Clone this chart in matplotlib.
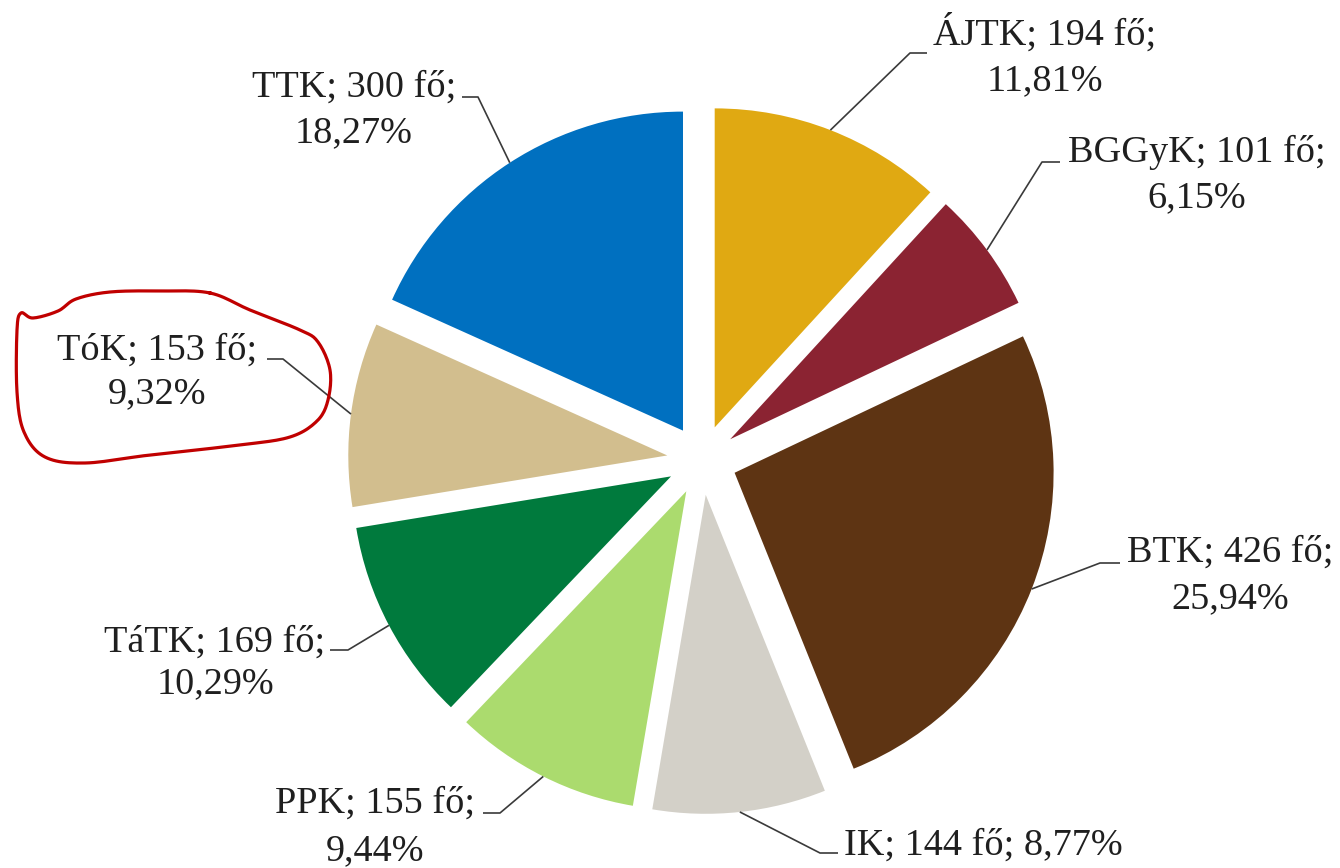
import numpy as np
import matplotlib
matplotlib.use("Agg")
import matplotlib.pyplot as plt

# ---- data ----
faculties = ["ÁJTK", "BGGyK", "BTK", "IK", "PPK", "TáTK", "TóK", "TTK"]
counts = [194, 101, 426, 144, 155, 169, 153, 300]
percents = [11.81, 6.15, 25.94, 8.77, 9.44, 10.29, 9.32, 18.27]
colors = ["#E0A912", "#8B2332", "#5E3413", "#D3D0C8", "#ABDB6E", "#007A3D", "#D2BE8E", "#0070C0"]

# ---- layout (pixel coords, y measured from top) ----
W, H = 1340, 868
CX, CY, R = 702, 460, 319
EXPLODE_PX = 35   # matplotlib applies explode as an absolute offset

# text center x, baselines, leader horizontal y, text-side x, elbow x
layout = {
    "ÁJTK":  dict(tx=1045, lines=(45, 90),  ly=53,  x0=927,  x1=910),
    "BGGyK": dict(tx=1197, lines=(162, 207), ly=162, x0=1060, x1=1042),
    "BTK":   dict(tx=1230, lines=(562, 608), ly=563, x0=1120, x1=1100),
    "IK":    dict(tx=983,  lines=(855,),     ly=853, x0=838,  x1=820),
    "PPK":   dict(tx=375,  lines=(813, 860), ly=813, x0=483,  x1=500),
    "TáTK":  dict(tx=215,  lines=(652, 693), ly=650, x0=330,  x1=348),
    "TóK":   dict(tx=157,  lines=(360, 403), ly=359, x0=267,  x1=283),
    "TTK":   dict(tx=354,  lines=(97, 142),  ly=97,  x0=462,  x1=478),
}

def Y(y):
    return H - y

fig = plt.figure(figsize=(W / 100, H / 100), dpi=100)
ax = fig.add_axes([0, 0, 1, 1])

wedges, _ = ax.pie(counts, colors=colors, startangle=90, counterclock=False,
                   radius=R, center=(CX, Y(CY)), explode=[EXPLODE_PX] * len(counts),
                   wedgeprops=dict(linewidth=0))
ax.set_xlim(0, W)
ax.set_ylim(0, H)
ax.set_aspect("equal")
ax.axis("off")

font = dict(family=["Liberation Serif", "DejaVu Serif"], size=27.5, color="#1f1f1f")

for name, n, p, w in zip(faculties, counts, percents, wedges):
    L = layout[name]
    pct = f"{p:.2f}".replace(".", ",") + "%"
    if len(L["lines"]) == 1:
        texts = [f"{name}; {n} fő; {pct}"]
    else:
        texts = [f"{name}; {n} fő;", pct]
    for t, by in zip(texts, L["lines"]):
        ax.text(L["tx"], Y(by), t, ha="center", va="baseline", **font)
    mid = np.deg2rad((w.theta1 + w.theta2) / 2)
    ax_, ay_ = w.center[0] + w.r * np.cos(mid), w.center[1] + w.r * np.sin(mid)
    ax.plot([L["x0"], L["x1"], ax_], [Y(L["ly"]), Y(L["ly"]), ay_],
            color="#3a3a3a", lw=1.2, solid_capstyle="butt", zorder=3)

# hand-drawn red outline around the TóK label
pts = np.array([
    (210, 293), (250, 310), (300, 330), (318, 342), (330, 370), (328, 400),
    (317, 421), (290, 437), (240, 445), (150, 455), (85, 463), (45, 457),
    (24, 432), (17, 392), (17, 330), (21, 313), (33, 318), (58, 311),
    (76, 299), (110, 292), (160, 291), (210, 293),
], dtype=float)
P = np.vstack([pts[-2], pts, pts[1]])
curve = []
for i in range(1, len(P) - 2):
    p0, p1, p2, p3 = P[i - 1], P[i], P[i + 1], P[i + 2]
    for t in np.linspace(0, 1, 12, endpoint=False):
        t2, t3 = t * t, t * t * t
        curve.append(0.5 * ((2 * p1) + (-p0 + p2) * t + (2 * p0 - 5 * p1 + 4 * p2 - p3) * t2
                            + (-p0 + 3 * p1 - 3 * p2 + p3) * t3))
curve.append(P[-2])
curve = np.array(curve)
ax.plot(curve[:, 0], Y(curve[:, 1]), color="#C00000", lw=2.3, zorder=4)

fig.savefig("out.png", dpi=100, facecolor="white")
